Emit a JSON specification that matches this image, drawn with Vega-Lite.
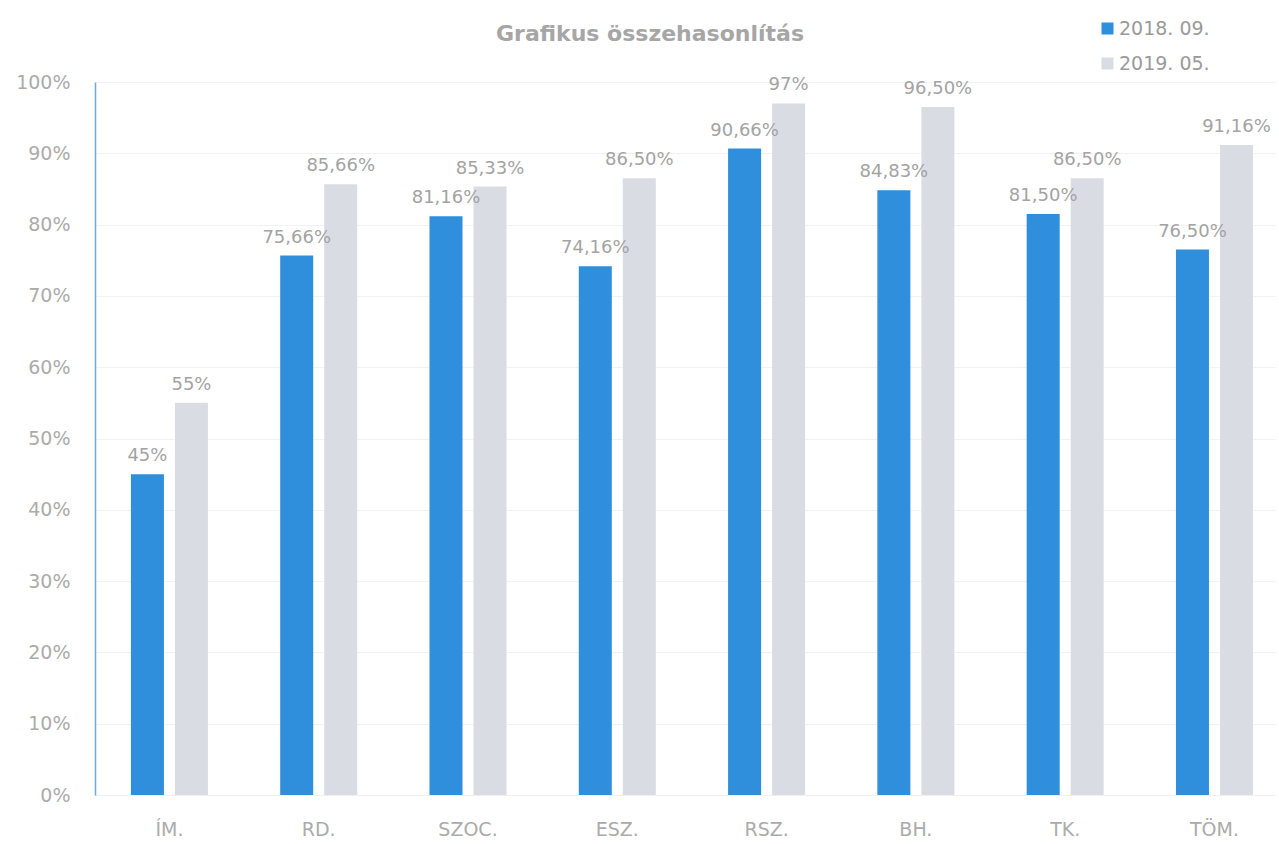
{
  "$schema": "https://vega.github.io/schema/vega-lite/v6.json",
  "autosize": "none",
  "width": 1180,
  "height": 713,
  "padding": {"left": 95, "top": 82, "right": 4, "bottom": 49},
  "background": "white",
  "title": {"text": "Grafikus összehasonlítás", "font": "DejaVu Sans", "fontSize": 22, "fontWeight": "bold", "color": "#a6a6a6", "anchor": "middle", "dx": -35, "offset": 0, "dy": 27},
  "data": {"values": [
    {"cat": "ÍM.", "period": "2018. 09.", "value": 0.45, "label": "45%"},
    {"cat": "ÍM.", "period": "2019. 05.", "value": 0.55, "label": "55%"},
    {"cat": "RD.", "period": "2018. 09.", "value": 0.7566, "label": "75,66%"},
    {"cat": "RD.", "period": "2019. 05.", "value": 0.8566, "label": "85,66%"},
    {"cat": "SZOC.", "period": "2018. 09.", "value": 0.8116, "label": "81,16%"},
    {"cat": "SZOC.", "period": "2019. 05.", "value": 0.8533, "label": "85,33%"},
    {"cat": "ESZ.", "period": "2018. 09.", "value": 0.7416, "label": "74,16%"},
    {"cat": "ESZ.", "period": "2019. 05.", "value": 0.865, "label": "86,50%"},
    {"cat": "RSZ.", "period": "2018. 09.", "value": 0.9066, "label": "90,66%"},
    {"cat": "RSZ.", "period": "2019. 05.", "value": 0.97, "label": "97%"},
    {"cat": "BH.", "period": "2018. 09.", "value": 0.8483, "label": "84,83%"},
    {"cat": "BH.", "period": "2019. 05.", "value": 0.965, "label": "96,50%"},
    {"cat": "TK.", "period": "2018. 09.", "value": 0.815, "label": "81,50%"},
    {"cat": "TK.", "period": "2019. 05.", "value": 0.865, "label": "86,50%"},
    {"cat": "TÖM.", "period": "2018. 09.", "value": 0.765, "label": "76,50%"},
    {"cat": "TÖM.", "period": "2019. 05.", "value": 0.9116, "label": "91,16%"}
  ]},
  "encoding": {
    "x": {"field": "cat", "type": "nominal", "sort": null,
      "scale": {"paddingInner": 0.484, "paddingOuter": 0.194, "align": 0.62},
      "axis": {"title": null, "labelAngle": 0, "labelFont": "DejaVu Sans", "labelFontSize": 19, "labelColor": "#ababab", "labelPadding": 25, "ticks": false, "domainColor": "#f0f0f0", "domainWidth": 1}},
    "xOffset": {"field": "period", "type": "nominal", "scale": {"paddingInner": 0.25, "paddingOuter": 0}},
    "y": {"field": "value", "type": "quantitative",
      "scale": {"domain": [0, 1]},
      "axis": {"title": null, "format": "~%", "values": [0, 0.1, 0.2, 0.3, 0.4, 0.5, 0.6, 0.7, 0.8, 0.9, 1], "labelOverlap": false, "labelFont": "DejaVu Sans", "labelFontSize": 19, "labelColor": "#ababab", "labelPadding": 25, "ticks": false, "domain": true, "domainColor": "#6fa8dc", "domainWidth": 1.5, "grid": true, "gridColor": "#f2f2f2", "gridWidth": 1}}
  },
  "layer": [
    {"mark": {"type": "bar"},
      "encoding": {
        "color": {"field": "period", "type": "nominal",
          "scale": {"domain": ["2018. 09.", "2019. 05."], "range": ["#2f8fdc", "#d9dde3"]},
          "legend": {"title": null, "orient": "none", "legendX": 1003, "legendY": -63, "symbolType": "square", "symbolSize": 144, "labelFont": "DejaVu Sans", "labelFontSize": 19, "labelColor": "#9a9a9a", "rowPadding": 15, "labelOffset": 2}}
      }},
    {"mark": {"type": "text", "dy": -18, "font": "DejaVu Sans", "fontSize": 18, "color": "#a3a3a3"},
      "encoding": {"text": {"field": "label"}}}
  ],
  "config": {"view": {"stroke": null}}
}
